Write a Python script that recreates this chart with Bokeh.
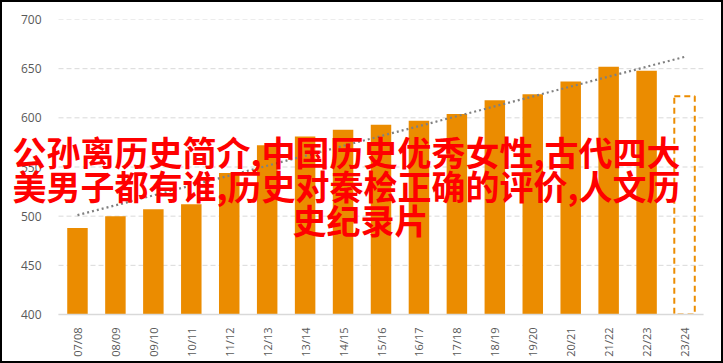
from bokeh.plotting import figure
from bokeh.models import Range1d, FixedTicker, Label
from bokeh.embed import file_html
from bokeh.resources import INLINE

# ---- data ----
categories = ["07/08", "08/09", "09/10", "10/11", "11/12", "12/13", "13/14", "14/15",
              "15/16", "16/17", "17/18", "18/19", "19/20", "20/21", "21/22", "22/23", "23/24"]
actual_values = [488, 500, 507, 512, 544, 572, 581, 588, 593, 597, 604, 618, 624, 637, 652, 648]
forecast_category = ["23/24"]
forecast_value = [622]
trend_categories = ["07/08", "23/24"]
trend_values = [501, 662]
y_ticks = [400, 450, 500, 550, 600, 650, 700]
overlay_lines = [
    "公孙离历史简介,中国历史优秀女性,古代四大",
    "美男子都有谁,历史对秦桧正确的评价,人文历",
    "史纪录片",
]

ORANGE = "#EB8C00"
GREY_TXT = "#595959"
GRID = "#D9D9D9"

idx = {c: i for i, c in enumerate(categories)}
n = len(categories)

p = figure(
    width=723, height=363,
    x_range=Range1d(-1.976, n - 0.5),
    y_range=Range1d(400, 700),
    output_backend="svg", toolbar_location=None,
    min_border_left=2, min_border_right=20, min_border_top=19, min_border_bottom=49,
    styles={"outline": "2px solid #000000", "outline-offset": "-2px",
            "box-shadow": "inset 0 0 0 2px #000000", "background-color": "#ffffff"},
)
p.outline_line_color = None
p.background_fill_color = "white"
p.border_fill_color = None

# grid lines (only across the category area)
p.ygrid.visible = False
p.xgrid.visible = False
p.segment(x0=[-0.5] * len(y_ticks), x1=[n - 0.5] * len(y_ticks), y0=y_ticks, y1=y_ticks,
          line_color=GRID, line_width=1, line_dash="5 3")

# bars
p.vbar(x=[idx[c] for c in categories[:len(actual_values)]], top=actual_values, bottom=400,
       width=0.54, fill_color=ORANGE, line_color=None)
# forecast dashed bar
p.vbar(x=[idx[c] for c in forecast_category], top=forecast_value, bottom=400, width=0.54,
       fill_color=None, line_color=ORANGE, line_width=2, line_dash="6 4")
# trend line
p.line(x=[idx[c] for c in trend_categories], y=trend_values, line_color="#808080",
       line_width=2.2, line_dash="2 3")

# axes
p.yaxis.ticker = FixedTicker(ticks=y_ticks)
p.yaxis.axis_line_color = None
p.yaxis.major_tick_line_color = None
p.yaxis.minor_tick_line_color = None
p.yaxis.major_label_text_font = "Open Sans"
p.yaxis.major_label_text_font_size = "12px"
p.yaxis.major_label_text_color = GREY_TXT
p.yaxis.major_label_standoff = -45

p.xaxis.ticker = FixedTicker(ticks=list(range(n)))
p.xaxis.major_label_overrides = {i: c for i, c in enumerate(categories)}
p.xaxis.bounds = (-0.5, n - 0.5)
p.xaxis.axis_line_color = GRID
p.xaxis.axis_line_width = 1.5
p.xaxis.major_tick_line_color = None
p.xaxis.minor_tick_line_color = None
p.xaxis.major_label_orientation = 1.5707963
p.xaxis.major_label_text_font = "Open Sans"
p.xaxis.major_label_text_font_size = "11px"
p.xaxis.major_label_text_color = GREY_TXT
p.xaxis.major_label_standoff = 7

# overlay text
positions = [(344, 163), (344, 129), (358, 95)]
for txt, (lx, ly) in zip(overlay_lines, positions):
    p.add_layout(Label(x=lx, y=ly, x_units="screen", y_units="screen", text=txt,
                       text_font="Noto Sans CJK SC", text_font_style="bold",
                       text_font_size="34px", text_color="#FF0000",
                       text_align="center", text_baseline="middle"))

open("out.html", "w").write(file_html(p, INLINE))
